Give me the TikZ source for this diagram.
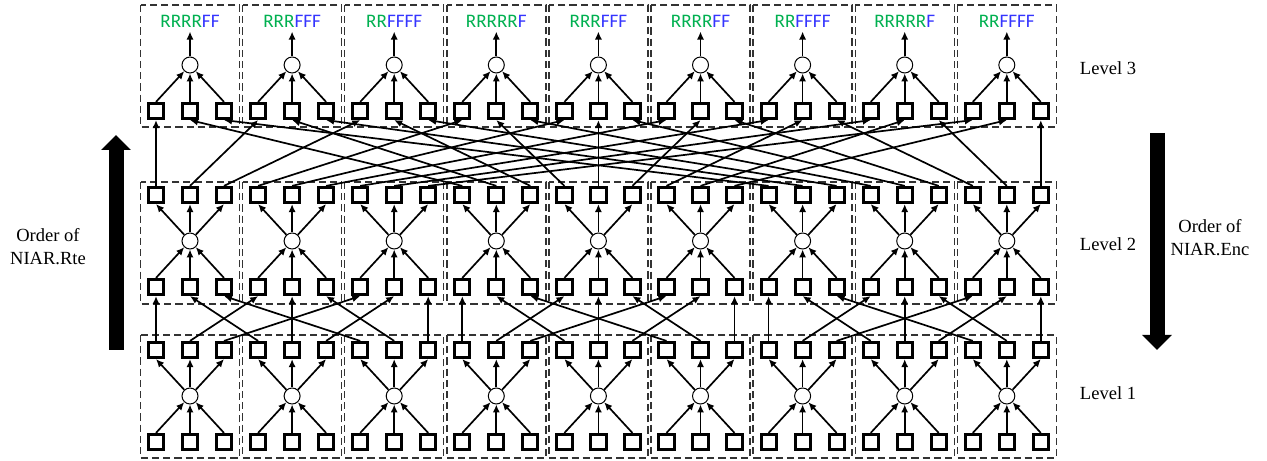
\documentclass[tikz,border=0pt]{standalone}
\usepackage{fontspec}
\setmainfont{Liberation Serif}
\newfontfamily\labelfont{Carlito}
\usetikzlibrary{arrows.meta}
\definecolor{rgreen}{HTML}{00B050}
\definecolor{fblue}{HTML}{3535FF}
\tikzset{
  % squares and adders
  cell/.style={draw, line width=1.5bp, minimum size=7.6bp, inner sep=0pt},
  sumnode/.style={circle, draw, line width=0.5bp, minimum size=8bp, inner sep=0pt},
  % arrows
  link/.style={-{Latex[length=4bp, width=3.6bp]}, line width=0.85bp},
  bigarrow/.style={-{Triangle[length=7.5bp, width=14.5bp]}, line width=7.5bp},
  % dashed block frames
  blockbox/.style={draw=black!80, line width=0.7bp, dash pattern=on 3.6bp off 2bp},
  % texts
  txt/.style={font=\fontsize{9.3}{11.5}\selectfont, align=center},
  outlabel/.style={font=\labelfont\fontsize{9.6}{11}\selectfont, inner sep=2bp},
}
\begin{document}
\begin{tikzpicture}[x=0.5bp, y=-0.5bp]
  \useasboundingbox (0,0) rectangle (1267,461);

  % Blocks of the three levels
  \foreach \b in {0,...,8} {
    \pgfmathsetmacro{\cx}{190+102.1*\b}
    \draw[blockbox] (\cx-49.5,5) rectangle (\cx+49.5,127);
    \draw[blockbox] (\cx-49.5,182) rectangle (\cx+49.5,304);
    \draw[blockbox] (\cx-49.5,335) rectangle (\cx+49.5,458);
    \node[sumnode] (l1sum\b) at (\cx,396) {};
    \node[sumnode] (l2sum\b) at (\cx,241) {};
    \node[sumnode] (l3sum\b) at (\cx,65) {};
    \foreach \p in {0,1,2} {
      \pgfmathsetmacro{\sx}{\cx+34*(\p-1)}
      \node[cell] (l1in\b\p) at (\sx,442) {};
      \node[cell] (l1out\b\p) at (\sx,350) {};
      \node[cell] (l2in\b\p) at (\sx,287) {};
      \node[cell] (l2out\b\p) at (\sx,195) {};
      \node[cell] (l3in\b\p) at (\sx,111) {};
      \draw[link] (l1in\b\p.north) -- (l1sum\b);
      \draw[link] (l1sum\b) -- (l1out\b\p.south);
      \draw[link] (l2in\b\p.north) -- (l2sum\b);
      \draw[link] (l2sum\b) -- (l2out\b\p.south);
      \draw[link] (l3in\b\p.north) -- (l3sum\b);
    }
  }

  % Level 3 outputs
  \foreach \b/\r/\f in {0/RRRR/FF, 1/RRR/FFF, 2/RR/FFFF, 3/RRRRR/F, 4/RRR/FFF,
                        5/RRRR/FF, 6/RR/FFFF, 7/RRRRR/F, 8/RR/FFFF} {
    \pgfmathsetmacro{\cx}{190+102.1*\b}
    \node[outlabel] (l3lab\b) at (\cx,21) {\textcolor{rgreen}{\r}\textcolor{fblue}{\f}};
    \draw[link] (l3sum\b) -- (l3lab\b.south);
  }

  % Interconnections between levels
  \foreach \b in {0,...,8} {
    \foreach \p in {0,1,2} {
      \pgfmathtruncatemacro{\tb}{3*int(\b/3)+\p}
      \pgfmathtruncatemacro{\tp}{mod(\b,3)}
      \draw[link] (l1out\b\p.north) -- (l2in\tb\tp.south);
      \pgfmathtruncatemacro{\k}{3*\b+\p}
      \pgfmathtruncatemacro{\ub}{mod(\k,9)}
      \pgfmathtruncatemacro{\up}{int(\k/9)}
      \draw[link] (l2out\b\p.north) -- (l3in\ub\up.south);
    }
  }

  % Level names
  \node[txt] (lev3) at (1108,68) {Level 3};
  \node[txt] (lev2) at (1108,244) {Level 2};
  \node[txt] (lev1) at (1108,393) {Level 1};

  % Order arrows
  \coordinate (rteS) at (116,350);
  \coordinate (rteE) at (116,135);
  \draw[bigarrow] (rteS) -- (rteE);
  \node[txt] (rte) at (48,247) {Order of\\NIAR.Rte};
  \coordinate (encS) at (1157,133);
  \coordinate (encE) at (1157,350);
  \draw[bigarrow] (encS) -- (encE);
  \node[txt] (enc) at (1210,238) {Order of\\NIAR.Enc};
\end{tikzpicture}
\end{document}
